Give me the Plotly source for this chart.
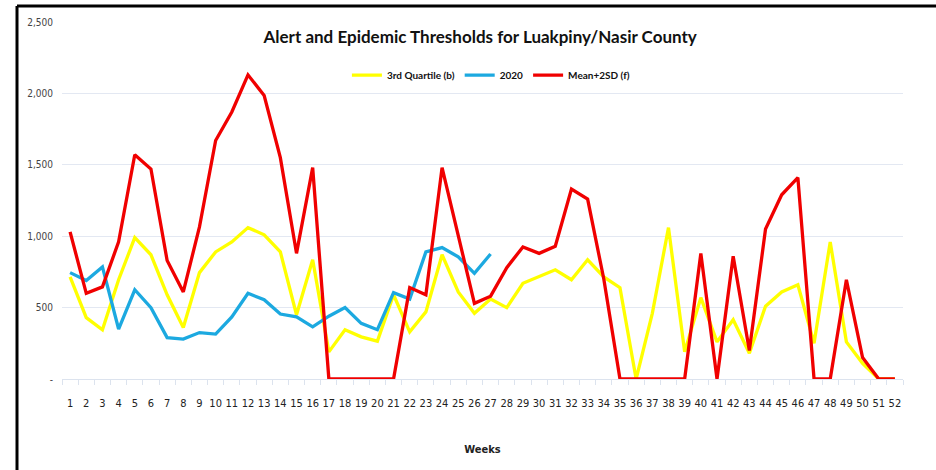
import plotly.graph_objects as go

weeks = [str(i) for i in range(1, 53)]

third_quartile = [715, 430, 345, 695, 990, 870, 590, 360, 745, 890, 960, 1060, 1010, 890, 450, 835,
                  190, 345, 295, 265, 590, 330, 470, 870, 610, 460, 560, 500, 670, 715, 765, 695,
                  835, 715, 640, 0, 460, 1060, 190, 570, 260, 415, 180, 510, 610, 660, 250, 960,
                  260, 110, 0, 0]

y2020 = [745, 690, 785, 350, 625, 500, 290, 280, 325, 315, 435, 600, 555, 455, 435, 365,
         440, 500, 390, 345, 605, 560, 890, 920, 855, 740, 875]

mean_2sd = [1030, 600, 645, 960, 1570, 1470, 830, 610, 1065, 1670, 1870, 2130, 1985, 1550, 880, 1480,
            0, 0, 0, 0, 0, 640, 590, 1480, 1000, 530, 580, 780, 925, 880, 930, 1330,
            1260, 700, 0, 0, 0, 0, 0, 880, 0, 860, 200, 1050, 1290, 1410, 0, 0,
            695, 150, 0, 0]

y_ticks = [0, 500, 1000, 1500, 2000, 2500]
y_tick_text = ["-", "500", "1,000", "1,500", "2,000", "2,500"]

narrow = "Liberation Sans Narrow, DejaVu Sans Condensed, Roboto Condensed, sans-serif"

fig = go.Figure()
fig.add_trace(go.Scatter(x=weeks, y=third_quartile, name="<b>3rd Quartile (b)</b>", mode="lines",
                         line=dict(color="#FFFF00", width=3.3)))
fig.add_trace(go.Scatter(x=weeks[:len(y2020)], y=y2020, name="<b>2020</b>", mode="lines",
                         line=dict(color="#1CA9E0", width=3.3)))
fig.add_trace(go.Scatter(x=weeks, y=mean_2sd, name="<b>Mean+2SD (f)</b>", mode="lines",
                         line=dict(color="#F00000", width=3.3)))

fig.update_layout(
    width=936, height=470,
    margin=dict(l=62, r=33, t=22, b=91),
    paper_bgcolor="white", plot_bgcolor="white",
    font=dict(family=narrow, color="#333333"),
    title=dict(text="<b>Alert and Epidemic Thresholds for Luakpiny/Nasir County</b>",
               x=0.513, xanchor="center", y=0.922, yanchor="middle",
               font=dict(family="Lato, sans-serif", size=17, color="#111111")),
    legend=dict(orientation="h", x=0.51, xanchor="center", y=0.851, yanchor="middle",
                font=dict(family="Lato, sans-serif", size=10, color="#111111"),
                bgcolor="rgba(0,0,0,0)", itemwidth=30),
    showlegend=True,
    xaxis=dict(type="category", range=[-0.5, 51.5], showgrid=False,
               showline=True, linecolor="#DCE3EE", linewidth=1,
               ticks="outside", tickson="boundaries", ticklen=5, tickcolor="#DCE3EE",
               tickangle=0, ticklabelstandoff=14,
               tickfont=dict(family=narrow, size=11, color="#222222"),
               title=dict(text="<b>Weeks</b>", font=dict(family=narrow, size=11, color="#222222"),
                          standoff=36)),
    yaxis=dict(range=[0, 2500], tickvals=y_ticks, ticktext=y_tick_text,
               showgrid=True, gridcolor="#E3E8F2", gridwidth=1, zeroline=False,
               tickfont=dict(family=narrow, size=10, color="#444444"), ticks="", ticklabelstandoff=8),
)

# outer frame edges (partially out of view as in the reference)
fig.add_shape(type="line", xref="paper", yref="paper",
              x0=-0.0535, x1=1.1, y0=1.045, y1=1.045,
              line=dict(color="black", width=3), layer="above")
fig.add_shape(type="line", xref="paper", yref="paper",
              x0=-0.0535, x1=-0.0535, y0=-0.4, y1=1.045,
              line=dict(color="black", width=3), layer="above")

fig.write_html("out.html", config={"displayModeBar": False},
               post_script="document.body.style.margin='0';")
